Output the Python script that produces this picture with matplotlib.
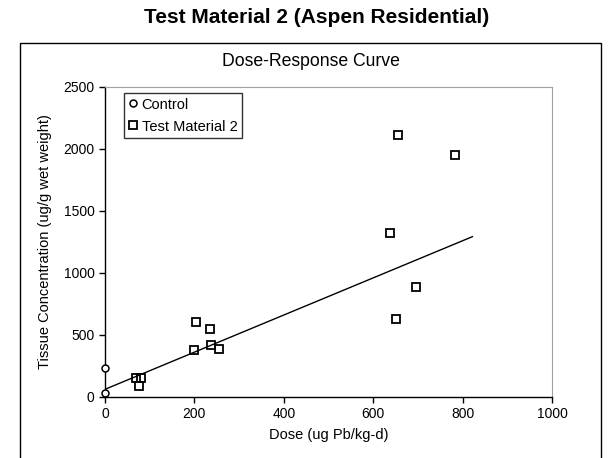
import matplotlib
matplotlib.use("Agg")
import matplotlib.pyplot as plt
from matplotlib.patches import Rectangle

plt.rcParams["font.family"] = ["Liberation Sans", "DejaVu Sans"]

# Data
control_dose = [0, 0]
control_conc = [235, 32]

tm2_dose = [70, 80, 75, 204, 236, 198, 238, 254, 638, 651, 655, 696, 783]
tm2_conc = [155, 150, 90, 602, 546, 380, 417, 390, 1320, 627, 2110, 890, 1950]

fit_dose = [0, 822]
fit_conc = [62, 1293]

x_ticks = [0, 200, 400, 600, 800, 1000]
y_ticks = [0, 500, 1000, 1500, 2000, 2500]

fig = plt.figure(figsize=(6.08, 4.58), dpi=100)

# outer chart frame
fig.patches.append(Rectangle((0.0329, -0.02), 0.9556, 0.926, transform=fig.transFigure,
                             fill=False, edgecolor="black", linewidth=1.0))

fig.text(0.521, 0.962, "Test Material 2 (Aspen Residential)", ha="center", va="center",
         fontsize=15, fontweight="bold")
fig.text(0.511, 0.865, "Dose-Response Curve", ha="center", va="center", fontsize=12.7)

ax = fig.add_axes([0.1727, 0.1332, 0.7352, 0.6769])
ax.plot(fit_dose, fit_conc, "-", color="black", lw=1.0, zorder=2)
ax.plot(control_dose, control_conc, "o", mfc="white", mec="black", mew=1.1,
        markersize=5, ls="none", label="Control", zorder=3, clip_on=False)
ax.plot(tm2_dose, tm2_conc, "s", mfc="none", mec="black", mew=1.3,
        markersize=6.2, ls="none", label="Test Material 2", zorder=3, clip_on=False)

ax.set_xlim(0, 1000)
ax.set_ylim(0, 2500)
ax.set_xticks(x_ticks)
ax.set_yticks(y_ticks)
ax.tick_params(direction="out", length=4, width=1, labelsize=10)
for s in ["top", "right"]:
    ax.spines[s].set_color("#a0a0a0")
for s in ["left", "bottom"]:
    ax.spines[s].set_linewidth(1.0)

ax.set_xlabel("Dose (ug Pb/kg-d)", fontsize=10.5, labelpad=5)
ax.set_ylabel("Tissue Concentration (ug/g wet weight)", fontsize=10.5, labelpad=8)

leg = ax.legend(loc="upper left", bbox_to_anchor=(0.043, 0.98), fontsize=10.5,
                frameon=True, fancybox=False, handlelength=0.6, handletextpad=0.3,
                borderpad=0.3, labelspacing=0.55, borderaxespad=0.0,
                markerscale=1.0)
leg.get_frame().set_edgecolor("black")
leg.get_frame().set_linewidth(1.0)

fig.savefig("out.png", dpi=100)
